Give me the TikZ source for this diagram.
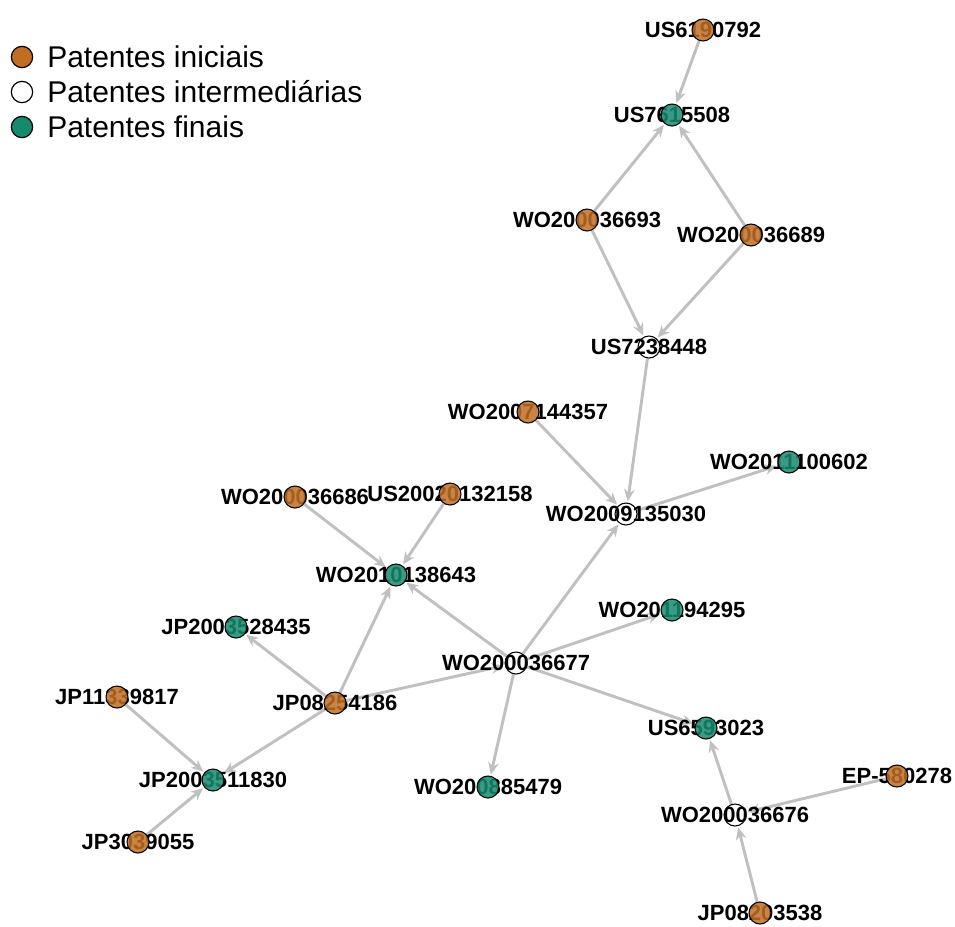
\documentclass[tikz,border=0pt]{standalone}
\usepackage{fontspec}
\setmainfont{Liberation Sans}
\usetikzlibrary{arrows.meta}
\pgfdeclarelayer{edges}
\pgfsetlayers{edges,main}
\definecolor{inicial}{RGB}{192,110,36}
\definecolor{final}{RGB}{22,138,110}
\definecolor{edgegray}{RGB}{192,192,192}
\tikzset{
  patlabel/.style={font=\fontsize{16.5pt}{18pt}\selectfont\bfseries, inner sep=0pt, text=black},
  patnode/.style={circle, draw=black, line width=0.8pt, minimum size=16.5pt, inner sep=0pt, fill opacity=0.85},
  ini/.style={patnode, fill=inicial},
  mid/.style={patnode, fill=white, fill opacity=0},
  fin/.style={patnode, fill=final},
  cite/.style={draw=edgegray, line width=2.2pt, -{Stealth[length=9pt,width=8pt]}, shorten >=1pt},
  legdot/.style={circle, draw=black, line width=0.9pt, minimum size=16pt, inner sep=0pt},
  legtext/.style={font=\fontsize{22.5pt}{24pt}\selectfont, anchor=west, inner sep=0pt}
}
% \patent{id}{x}{y}{kind}{number}: the number, with its dot on top of it
\newcommand{\patent}[5]{%
  \node[patlabel] (t#1) at (#2,#3) {#5};%
  \node[#4] (#1) at (#2,#3) {};%
}
\begin{document}
\begin{tikzpicture}[x=0.75pt, y=-0.75pt]
\useasboundingbox (0,0) rectangle (955,926);

% legend
\node[legdot, fill=inicial] (k1) at (22,57) {};
\node[legdot, fill=white] (k2) at (22,92) {};
\node[legdot, fill=final] (k3) at (22,127) {};
\node[legtext] (kt1) at (47,57) {Patentes iniciais};
\node[legtext] (kt2) at (47,92) {Patentes intermediárias};
\node[legtext] (kt3) at (47,127) {Patentes finais};

% patents
\patent{a}{703}{30}{ini}{US6190792}
\patent{b}{672}{115}{fin}{US7615508}
\patent{c}{587}{220}{ini}{WO200036693}
\patent{d}{751}{235}{ini}{WO200036689}
\patent{e}{649}{347}{mid}{US7238448}
\patent{f}{528}{412}{ini}{WO2007144357}
\patent{g}{789}{462}{fin}{WO2011100602}
\patent{h}{626}{514}{mid}{WO2009135030}
\patent{i}{295}{497}{ini}{WO200036686}
\patent{j}{450}{494}{ini}{US20020132158}
\patent{k}{396}{575}{fin}{WO2010138643}
\patent{l}{236}{627}{fin}{JP2003528435}
\patent{m}{516}{663}{mid}{WO200036677}
\patent{n}{672}{610}{fin}{WO201194295}
\patent{o}{335}{703}{ini}{JP08254186}
\patent{p}{117}{697}{ini}{JP11339817}
\patent{q}{213}{780}{fin}{JP2003511830}
\patent{r}{138}{842}{ini}{JP3039055}
\patent{s}{488}{787}{fin}{WO200885479}
\patent{u}{706}{728}{fin}{US6593023}
\patent{v}{735}{815}{mid}{WO200036676}
\patent{w}{897}{776}{ini}{EP-580278}
\patent{z}{760}{913}{ini}{JP08203538}

% citations, kept beneath the dots and numbers
\begin{pgfonlayer}{edges}
\foreach \src/\dst in {a/b, c/b, d/b, c/e, d/e, e/h, f/h, h/g, m/h,
                       i/k, j/k, m/k, o/k, o/l, o/m, o/q, p/q, r/q,
                       m/n, m/s, m/u, v/u, w/v, z/v}
  \draw[cite] (\src) -- (\dst);
\end{pgfonlayer}
\end{tikzpicture}
\end{document}
